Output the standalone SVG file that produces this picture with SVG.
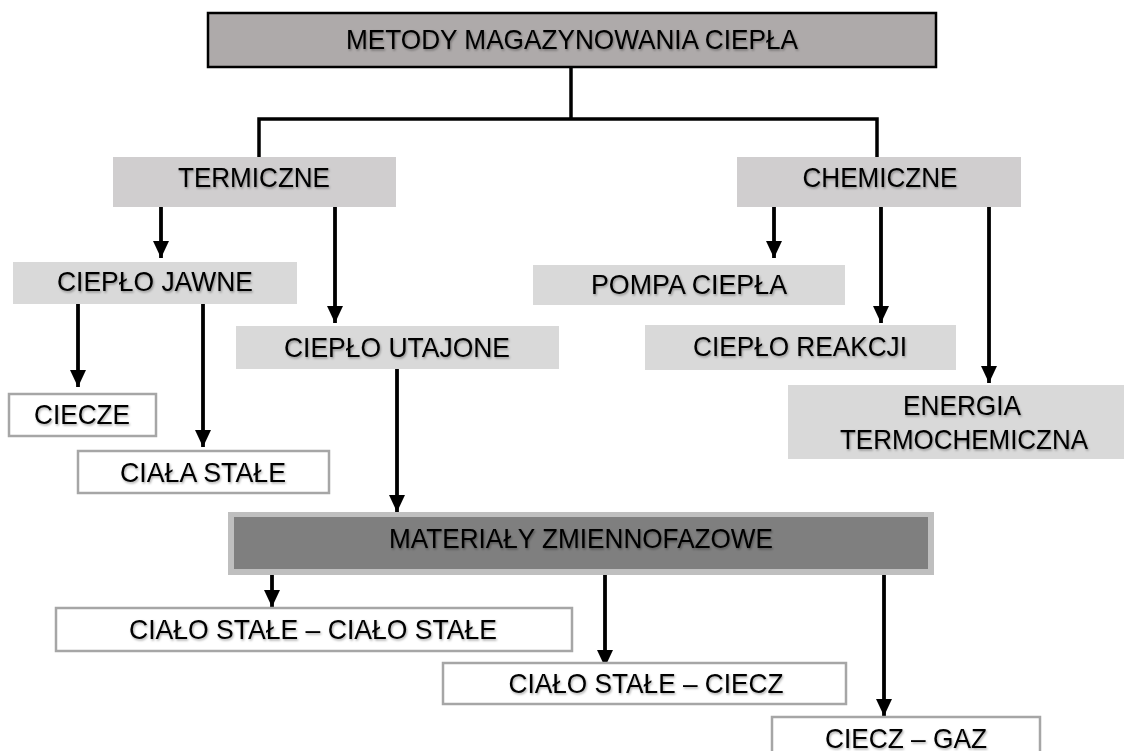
<svg xmlns="http://www.w3.org/2000/svg" width="1124" height="751" viewBox="0 0 1124 751">
<defs>
<marker id="ah" markerUnits="userSpaceOnUse" markerWidth="18" markerHeight="18" viewBox="0 0 18 18" refX="17" refY="9" orient="auto">
<path d="M0,1 L17,9 L0,17 Z" fill="#000"/>
</marker>
<filter id="sh" x="-10%" y="-30%" width="120%" height="160%">
<feDropShadow dx="1" dy="1.5" stdDeviation="1.2" flood-color="#000" flood-opacity="0.35"/>
</filter>
<style>
text{font-family:"Liberation Sans",Arial,sans-serif;font-size:28px;fill:#000;text-anchor:middle;filter:url(#sh)}
.g1{fill:#d0cecf}
.g2{fill:#d9d9d9}
.wb{fill:#fff;stroke:#a6a6a6;stroke-width:2.5}
.ln{stroke:#000;stroke-width:3.5;fill:none}
.ar{stroke:#000;stroke-width:3.8;fill:none}
</style>
</defs>
<rect width="1124" height="751" fill="#fff"/>
<g id="connectors">
<polyline class="ln" points="571,67 571,119"/>
<polyline class="ln" points="259,157 259,119 877,119 877,157"/>
<line class="ar" x1="161" y1="207" x2="161" y2="258" marker-end="url(#ah)"/>
<line class="ar" x1="335" y1="207" x2="335" y2="323" marker-end="url(#ah)"/>
<line class="ar" x1="78" y1="304" x2="78" y2="387" marker-end="url(#ah)"/>
<line class="ar" x1="203" y1="304" x2="203" y2="447" marker-end="url(#ah)"/>
<line class="ar" x1="397" y1="369" x2="397" y2="512" marker-end="url(#ah)"/>
<line class="ar" x1="774" y1="207" x2="774" y2="258" marker-end="url(#ah)"/>
<line class="ar" x1="881" y1="207" x2="881" y2="323" marker-end="url(#ah)"/>
<line class="ar" x1="989" y1="207" x2="989" y2="383" marker-end="url(#ah)"/>
<line class="ar" x1="272" y1="574" x2="272" y2="607" marker-end="url(#ah)"/>
<line class="ar" x1="605" y1="574" x2="605" y2="667" marker-end="url(#ah)"/>
<line class="ar" x1="884" y1="574" x2="884" y2="716" marker-end="url(#ah)"/>
</g>
<g id="n-root">
<rect x="208" y="13" width="728" height="54" fill="#aeaaaa" stroke="#000" stroke-width="2.5"/>
<text x="572" y="49" textLength="452" lengthAdjust="spacingAndGlyphs">METODY MAGAZYNOWANIA CIEPŁA</text>
</g>
<g id="n-termiczne">
<rect class="g1" x="113" y="157" width="283" height="50"/>
<text x="254" y="187" textLength="152" lengthAdjust="spacingAndGlyphs">TERMICZNE</text>
</g>
<g id="n-chemiczne">
<rect class="g1" x="737" y="157" width="284" height="50"/>
<text x="880" y="187" textLength="155" lengthAdjust="spacingAndGlyphs">CHEMICZNE</text>
</g>
<g id="n-jawne">
<rect class="g2" x="13" y="262" width="284" height="42"/>
<text x="155" y="291" textLength="196" lengthAdjust="spacingAndGlyphs">CIEPŁO JAWNE</text>
</g>
<g id="n-utajone">
<rect class="g2" x="236" y="326" width="323" height="43"/>
<text x="397" y="357" textLength="226" lengthAdjust="spacingAndGlyphs">CIEPŁO UTAJONE</text>
</g>
<g id="n-ciecze">
<rect class="wb" x="9" y="394" width="147" height="42"/>
<text x="82" y="424" textLength="96" lengthAdjust="spacingAndGlyphs">CIECZE</text>
</g>
<g id="n-ciala">
<rect class="wb" x="78" y="451" width="251" height="42"/>
<text x="203" y="482" textLength="166" lengthAdjust="spacingAndGlyphs">CIAŁA STAŁE</text>
</g>
<g id="n-pompa">
<rect class="g2" x="533" y="265" width="312" height="40"/>
<text x="689" y="294" textLength="196" lengthAdjust="spacingAndGlyphs">POMPA CIEPŁA</text>
</g>
<g id="n-reakcji">
<rect class="g2" x="645" y="325" width="311" height="45"/>
<text x="800" y="356" textLength="214" lengthAdjust="spacingAndGlyphs">CIEPŁO REAKCJI</text>
</g>
<g id="n-energia">
<rect class="g2" x="788" y="385" width="345" height="74"/>
<text x="962" y="415" textLength="118" lengthAdjust="spacingAndGlyphs">ENERGIA</text>
<text x="964" y="449" textLength="248" lengthAdjust="spacingAndGlyphs">TERMOCHEMICZNA</text>
</g>
<g id="n-pcm">
<rect x="228" y="512" width="706" height="63" fill="#bfbfbf"/>
<rect x="234" y="517" width="694" height="52" fill="#7f7f7f"/>
<text x="581" y="548" textLength="384" lengthAdjust="spacingAndGlyphs">MATERIAŁY ZMIENNOFAZOWE</text>
</g>
<g id="n-ss">
<rect class="wb" x="56" y="608" width="516" height="43"/>
<text x="313" y="639" textLength="368" lengthAdjust="spacingAndGlyphs">CIAŁO STAŁE – CIAŁO STAŁE</text>
</g>
<g id="n-sl">
<rect class="wb" x="443" y="663" width="403" height="41"/>
<text x="646" y="693" textLength="275" lengthAdjust="spacingAndGlyphs">CIAŁO STAŁE – CIECZ</text>
</g>
<g id="n-lg">
<rect class="wb" x="772" y="717" width="268" height="50"/>
<text x="906" y="748" textLength="162" lengthAdjust="spacingAndGlyphs">CIECZ – GAZ</text>
</g>
</svg>
